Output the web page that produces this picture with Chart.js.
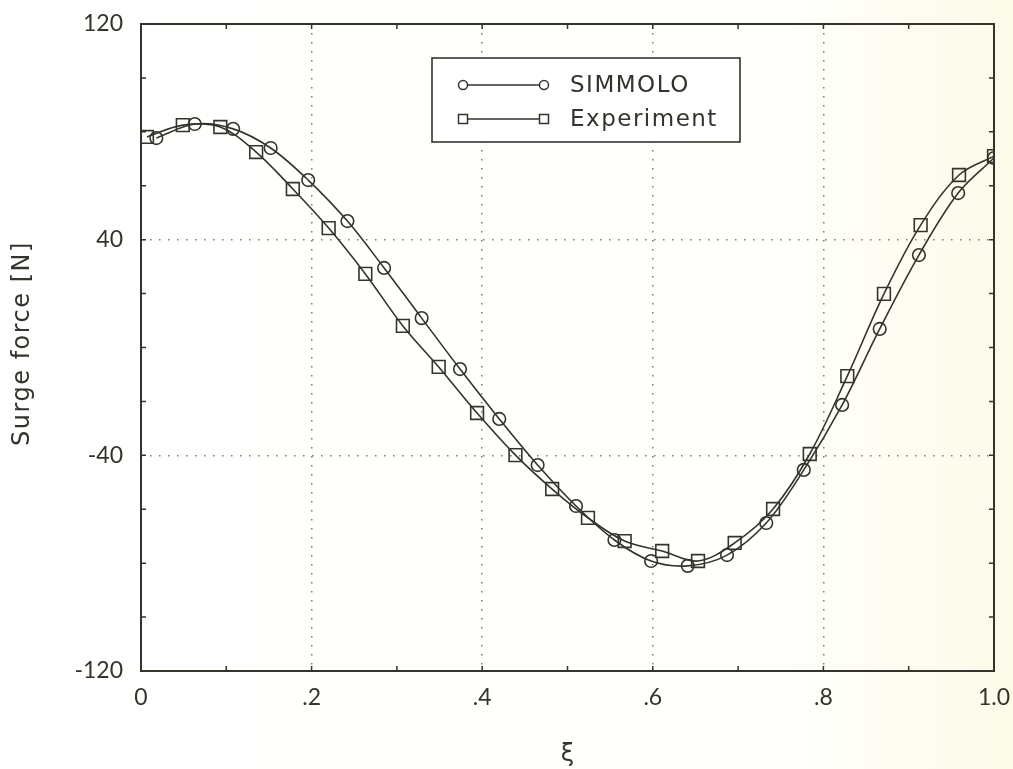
<!DOCTYPE html>
<html>
<head>
<meta charset="utf-8">
<title>Surge force</title>
<script src="https://cdn.jsdelivr.net/npm/chart.js@4/dist/chart.umd.min.js"></script>
<style>
  html, body { margin: 0; padding: 0; }
  body {
    width: 1013px; height: 769px; overflow: hidden;
    background: linear-gradient(to right, #ffffff 0%, #fffffc 78%, #fdfae8 100%);
  }
  #wrap { position: relative; width: 1013px; height: 769px; }
</style>
</head>
<body>
<div id="wrap"><canvas id="chart" width="1013" height="769"></canvas></div>
<script>
// values
const simX = [0.018, 0.063, 0.108, 0.152, 0.196, 0.242, 0.285, 0.329, 0.374, 0.420, 0.465, 0.510,
  0.555, 0.598, 0.641, 0.687, 0.733, 0.777, 0.822, 0.866, 0.912, 0.958, 1.0];
const simY = [77.7, 82.9, 81.1, 74.0, 62.1, 46.9, 29.5, 10.9, -8.0, -26.5, -43.6, -58.8,
  -71.4, -79.2, -81.0, -77.0, -65.1, -45.4, -21.3, 6.9, 34.3, 57.3, 70.3];

const expX = [0.007, 0.049, 0.093, 0.135, 0.178, 0.220, 0.263, 0.307, 0.349, 0.394, 0.439, 0.482,
  0.524, 0.567, 0.611, 0.653, 0.696, 0.741, 0.784, 0.828, 0.871, 0.914, 0.959, 1.0];
const expY = [78.1, 82.5, 81.8, 72.5, 58.8, 44.3, 27.3, 8.0, -7.2, -24.3, -39.9, -52.5,
  -63.2, -71.8, -75.5, -79.2, -72.5, -59.9, -39.5, -10.6, 19.9, 45.4, 64.0, 71.0];

const seriesNames = ['SIMMOLO', 'Experiment'];
const xTickValues = [0, 0.2, 0.4, 0.6, 0.8, 1.0];
const xTickLabels = ['0', '.2', '.4', '.6', '.8', '1.0'];
const yTickLabels = [120, 40, -40, -120];
const xGridValues = [0.2, 0.4, 0.6, 0.8];
const yGridValues = [40, -40];
const yTitle = 'Surge force [N]';

const ink = '#34342c';
const fontFamily = '"DejaVu Sans", Lato, sans-serif';
const tickFamily = 'Lato, "DejaVu Sans", sans-serif';

const toPoints = (xs, ys) => xs.map((x, i) => ({ x: x, y: ys[i] }));
const tenths = (v) => Math.round(v * 10);

// frame round the plot + short inward ticks + y title + boxed legend
const framePlugin = {
  id: 'frame',
  afterDraw(chart) {
    const ctx = chart.ctx;
    const a = chart.chartArea;
    const xs = chart.scales.x;
    const ys = chart.scales.y;
    ctx.save();
    ctx.strokeStyle = ink;
    ctx.lineWidth = 2;
    ctx.strokeRect(a.left, a.top, a.right - a.left, a.bottom - a.top);

    ctx.lineWidth = 1.5;
    ctx.beginPath();
    xs.ticks.forEach((t) => {
      const px = xs.getPixelForValue(t.value);
      ctx.moveTo(px, a.bottom); ctx.lineTo(px, a.bottom - 5);
      ctx.moveTo(px, a.top); ctx.lineTo(px, a.top + 5);
    });
    ys.ticks.forEach((t) => {
      const py = ys.getPixelForValue(t.value);
      ctx.moveTo(a.left, py); ctx.lineTo(a.left + 5, py);
      ctx.moveTo(a.right, py); ctx.lineTo(a.right - 5, py);
    });
    ctx.stroke();

    // y title, drawn here so the lettering can be spaced out like the scan
    ctx.save();
    ctx.translate(23, (a.top + a.bottom) / 2 - 4);
    ctx.rotate(-Math.PI / 2);
    ctx.font = '24px ' + fontFamily;
    ctx.letterSpacing = '1.5px';
    ctx.textAlign = 'center';
    ctx.textBaseline = 'middle';
    ctx.fillStyle = ink;
    ctx.fillText(yTitle, 0, 0);
    ctx.restore();

    // legend
    const lx = 432, ly = 58, lw = 308, lh = 84;
    ctx.fillStyle = '#ffffff';
    ctx.fillRect(lx, ly, lw, lh);
    ctx.lineWidth = 1.6;
    ctx.strokeRect(lx, ly, lw, lh);
    const rows = [ly + 27, ly + 61];
    ctx.font = '23px ' + fontFamily;
    ctx.letterSpacing = '1.5px';
    ctx.textBaseline = 'middle';
    rows.forEach((ry, i) => {
      ctx.lineWidth = 1.5;
      ctx.beginPath();
      ctx.moveTo(467, ry); ctx.lineTo(540, ry);
      ctx.stroke();
      [463, 544].forEach((mx) => {
        ctx.beginPath();
        if (i === 0) ctx.arc(mx, ry, 4.5, 0, Math.PI * 2);
        else ctx.rect(mx - 4.5, ry - 4.5, 9, 9);
        ctx.fillStyle = '#ffffff';
        ctx.fill();
        ctx.stroke();
      });
      ctx.fillStyle = ink;
      ctx.fillText(seriesNames[i], 570, ry + 1);
    });
    ctx.restore();
  }
};

const chart = new Chart(document.getElementById('chart'), {
  type: 'line',
  data: {
    datasets: [
      {
        label: seriesNames[0],
        data: toPoints(simX, simY),
        borderColor: ink,
        borderWidth: 1.6,
        tension: 0.35,
        pointStyle: 'circle',
        pointRadius: 6.3,
        pointBorderWidth: 1.6,
        pointBorderColor: ink,
        pointBackgroundColor: 'rgba(0,0,0,0)'
      },
      {
        label: seriesNames[1],
        data: toPoints(expX, expY),
        borderColor: ink,
        borderWidth: 1.6,
        tension: 0.35,
        pointStyle: 'rect',
        pointRadius: 9,
        pointBorderWidth: 1.6,
        pointBorderColor: ink,
        pointBackgroundColor: 'rgba(0,0,0,0)'
      }
    ]
  },
  options: {
    responsive: false,
    animation: false,
    events: [],
    layout: { padding: { top: 24, right: 19, left: 0, bottom: 0 } },
    plugins: { legend: { display: false }, tooltip: { enabled: false } },
    scales: {
      x: {
        type: 'linear',
        min: 0,
        max: 1,
        afterFit: (s) => { s.height = 98; s.paddingLeft = 0; s.paddingRight = 0; },
        border: { display: false, dash: [1.5, 7.5] },
        grid: {
          drawTicks: false,
          lineWidth: 1.5,
          color: (c) => (c.tick && xGridValues.some((v) => tenths(v) === tenths(c.tick.value))) ? '#7a7a6e' : 'rgba(0,0,0,0)'
        },
        ticks: {
          stepSize: 0.1,
          padding: 13,
          color: ink,
          font: { family: tickFamily, size: 23 },
          callback: (v) => {
            const i = xTickValues.findIndex((t) => tenths(t) === tenths(v));
            return i >= 0 ? xTickLabels[i] : '';
          }
        },
        title: {
          display: true,
          text: 'ξ',
          color: ink,
          font: { family: fontFamily, size: 24 },
          padding: { top: 0, bottom: 0 }
        }
      },
      y: {
        min: -120,
        max: 120,
        afterFit: (s) => { s.width = 141; s.paddingTop = 0; s.paddingBottom = 0; },
        border: { display: false, dash: [1.5, 7.5] },
        grid: {
          drawTicks: false,
          lineWidth: 1.5,
          color: (c) => (c.tick && yGridValues.includes(c.tick.value)) ? '#7a7a6e' : 'rgba(0,0,0,0)'
        },
        ticks: {
          stepSize: 20,
          padding: 18,
          color: ink,
          font: { family: tickFamily, size: 23 },
          callback: (v) => yTickLabels.includes(v) ? String(v) : ''
        }
      }
    }
  },
  plugins: [framePlugin]
});
</script>
</body>
</html>
